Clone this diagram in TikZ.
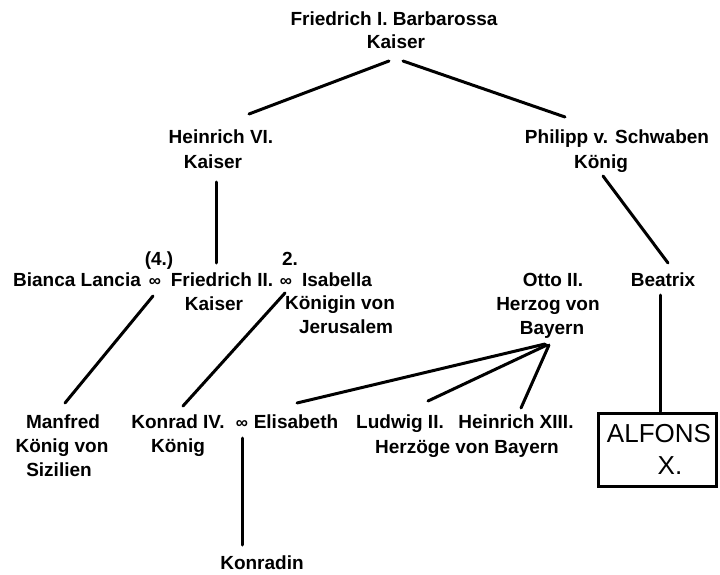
\documentclass[tikz,border=0pt]{standalone}
\usepackage{fontspec}
\setmainfont{Liberation Sans}
\begin{document}
\begin{tikzpicture}[x=1pt,y=-1pt,
  lbl/.style={font=\fontsize{19}{24}\selectfont\bfseries, anchor=base, inner sep=0pt},
  marr/.style={font=\fontsize{17}{17}\selectfont\bfseries, anchor=base, inner sep=0pt},
  big/.style={font=\fontsize{26}{30}\selectfont, anchor=base, inner sep=0pt},
  link/.style={line width=3pt, line cap=round},
  framebox/.style={draw, line width=3pt}]
\useasboundingbox (0,0) rectangle (720,575);

% generation 1
\node[lbl] (barb)  at (394,26) {Friedrich I. Barbarossa};
\node[lbl] (barbt) at (396,49) {Kaiser};

% generation 2
\node[lbl] (hein)  at (221,144) {Heinrich VI.};
\node[lbl] (heint) at (213,168) {Kaiser};
\node[lbl] (phil)  at (617,144) {Philipp v. Schwaben};
\node[lbl] (philt) at (601,168) {König};

% generation 3
\node[lbl] (nr4)    at (159,265) {(4.)};
\node[lbl] (nr2)    at (290,265) {2.};
\node[lbl] (bianca) at (77,286)  {Bianca Lancia};
\node[marr] (m1)    at (155,286) {∞};
\node[lbl] (fried)  at (222,286) {Friedrich II.};
\node[marr] (m2)    at (286,286) {∞};
\node[lbl] (isa)    at (337,286) {Isabella};
\node[lbl] (friedt) at (214,310) {Kaiser};
\node[lbl] (isat)   at (340,309) {Königin von};
\node[lbl] (isat2)  at (346,333) {Jerusalem};
\node[lbl] (otto)   at (553,286) {Otto II.};
\node[lbl] (ottot)  at (548,310) {Herzog von};
\node[lbl] (ottot2) at (552,334) {Bayern};
\node[lbl] (beat)   at (663,286) {Beatrix};

% generation 4
\node[lbl] (manf)   at (63,428)  {Manfred};
\node[lbl] (manft)  at (62,452)  {König von};
\node[lbl] (manft2) at (59,476)  {Sizilien};
\node[lbl] (konr)   at (178,428) {Konrad IV.};
\node[marr] (m3)    at (242,428) {∞};
\node[lbl] (elis)   at (296,428) {Elisabeth};
\node[lbl] (konrt)  at (178,452) {König};
\node[lbl] (ludw)   at (400,428) {Ludwig II.};
\node[lbl] (hxiii)  at (516,428) {Heinrich XIII.};
\node[lbl] (herz)   at (467,453) {Herzöge von Bayern};
\node[framebox, minimum width=118pt, minimum height=73pt] (alfbox) at (657,449.5) {};
\node[big] (alf)    at (659,442) {ALFONS};
\node[big] (alfx)   at (670,474) {X.};

% generation 5
\node[lbl] (konradin) at (262,569) {Konradin};

% connector end points
\coordinate (barb-l) at (389,61);
\coordinate (barb-r) at (403,61);
\coordinate (hein-t) at (249,114);
\coordinate (phil-t) at (565,117);
\coordinate (hein-b) at (216,182);
\coordinate (fried-t) at (216,263);
\coordinate (phil-b) at (603,176);
\coordinate (beat-t) at (668,263);
\coordinate (beat-b) at (660,295);
\coordinate (m1-b) at (153,296);
\coordinate (manf-t) at (65,403);
\coordinate (m2-b) at (285,293);
\coordinate (konr-t) at (183,406);
\coordinate (otto-b1) at (545,344);
\coordinate (otto-b2) at (547,345);
\coordinate (otto-b3) at (549,345);
\coordinate (elis-t) at (297,403);
\coordinate (ludw-t) at (428,401);
\coordinate (hxiii-t) at (521,408);
\coordinate (m3-b) at (242,438);
\coordinate (konradin-t) at (242,545);

% descent lines
\draw[link] (barb-l) -- (hein-t);
\draw[link] (barb-r) -- (phil-t);
\draw[link] (hein-b) -- (fried-t);
\draw[link] (phil-b) -- (beat-t);
\draw[link] (beat-b) -- (alfbox.north -| beat-b);
\draw[link] (m1-b) -- (manf-t);
\draw[link] (m2-b) -- (konr-t);
\draw[link] (otto-b1) -- (elis-t);
\draw[link] (otto-b2) -- (ludw-t);
\draw[link] (otto-b3) -- (hxiii-t);
\draw[link] (m3-b) -- (konradin-t);
\end{tikzpicture}
\end{document}
